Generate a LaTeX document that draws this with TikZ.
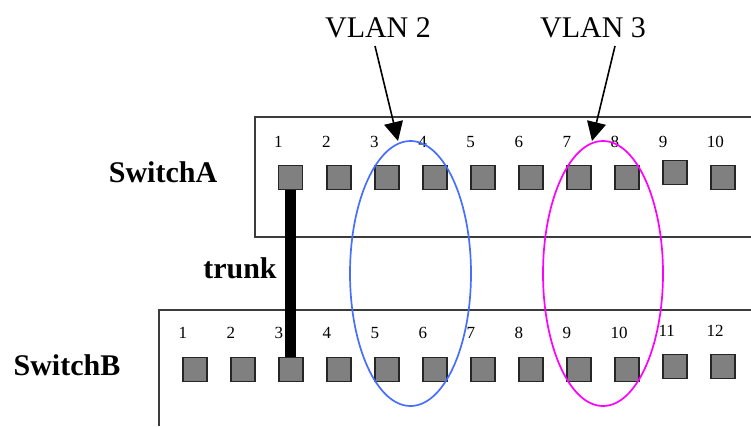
\documentclass[tikz,border=0pt]{standalone}
\usepackage{fontspec}
\setmainfont{Liberation Serif}
\usetikzlibrary{arrows.meta}
\definecolor{portgray}{RGB}{128,128,128}
\definecolor{boxline}{RGB}{60,60,60}
\definecolor{vblue}{RGB}{70,110,255}
\definecolor{vmag}{RGB}{255,0,255}
\begin{document}
\begin{tikzpicture}[x=1pt,y=-1pt,
  port/.style={rectangle, draw=black!85, fill=portgray, line width=1.9pt, minimum size=24pt, inner sep=0pt},
  plabel/.style={anchor=base west, inner sep=0pt, font=\fontsize{17}{17}\selectfont},
  box/.style={draw=boxline, line width=1.8pt},
  bigbold/.style={inner sep=0pt, font=\fontsize{30}{30}\selectfont\bfseries},
  vlabel/.style={inner sep=0pt, font=\fontsize{30}{30}\selectfont},
  trunkline/.style={line width=11pt, black},
  varrow/.style={line width=1.6pt, -{Triangle[length=19pt,width=19pt]}},
  vring/.style={line width=1.7pt}]
\useasboundingbox (0,0) rectangle (751,426);
% switch boxes
\draw[box] (751,117) -| (255,237) -- (751,237);
\draw[box] (751,310) -| (159,426);
% Switch A ports
\foreach \i/\y in {1/177.5,2/177.5,3/177.5,4/177.5,5/177.5,6/177.5,7/177.5,8/177.5,9/172.5,10/177.5}{
  \node[port] (a\i) at ({290.5+48.1*(\i-1)},\y) {};
  \node[plabel] (la\i) at ({290.5+48.1*(\i-1)-16.7},147.5) {\i};
}
% Switch B ports
\foreach \i/\y/\ly in {1/369.5/338.5,2/369.5/338.5,3/369.5/338.5,4/369.5/338.5,5/369.5/338.5,6/369.5/338.5,7/369.5/338.5,8/369.5/338.5,9/369.5/338.5,10/369.5/338.5,11/366.5/336.5,12/366.5/336.5}{
  \node[port] (b\i) at ({195+48*(\i-1)},\y) {};
  \node[plabel] (lb\i) at ({195+48*(\i-1)-16.7},\ly) {\i};
}
% trunk
\draw[trunkline] (a1.south) -- (a1.south |- b3.north);
% labels
\node[bigbold] (swa) at (163,172) {SwitchA};
\node[bigbold] (swb) at (67,365) {SwitchB};
\node[bigbold] (trunk) at (240,268) {trunk};
\node[vlabel] (v2) at (378,28) {VLAN 2};
\node[vlabel] (v3) at (593,28) {VLAN 3};
% VLAN rings
\draw[vring, draw=vblue] (410.5,273.5) ellipse [x radius=60.5, y radius=132.5];
\draw[vring, draw=vmag] (603,273.5) ellipse [x radius=60, y radius=132.5];
% arrows
\coordinate (s2) at (375,46);
\coordinate (t2) at (398,141);
\coordinate (s3) at (615,46);
\coordinate (t3) at (592,141);
\draw[varrow] (s2) -- (t2);
\draw[varrow] (s3) -- (t3);
\end{tikzpicture}
\end{document}
